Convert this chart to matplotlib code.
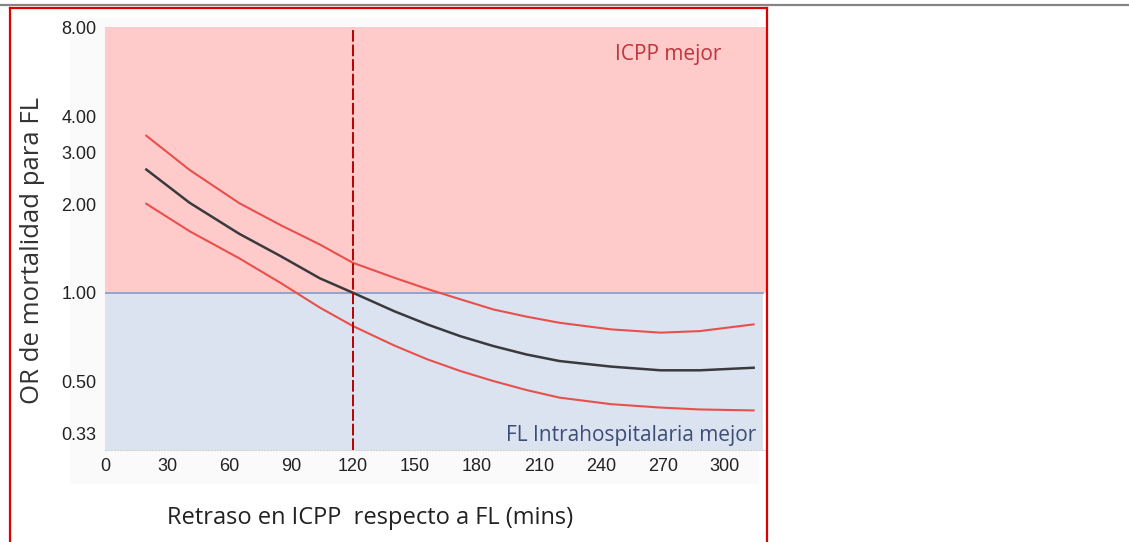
import numpy as np
import matplotlib
matplotlib.use("Agg")
import matplotlib.pyplot as plt
from matplotlib.lines import Line2D
from matplotlib.patches import Rectangle

# ── Data ──────────────────────────────────────────────────────────────────────
delay_min = [20, 41, 65, 85, 104, 120, 140, 156, 172, 188, 204, 220, 245, 269, 288, 314]
or_mid    = [2.63, 2.025, 1.588, 1.333, 1.12, 1.00, 0.865, 0.78, 0.711, 0.658,
             0.616, 0.585, 0.56, 0.544, 0.544, 0.555]
or_upper  = [3.43, 2.62, 2.02, 1.70, 1.46, 1.265, 1.125, 1.03, 0.95, 0.877,
             0.829, 0.79, 0.75, 0.731, 0.74, 0.78]
or_lower  = [2.01, 1.62, 1.31, 1.08, 0.89, 0.77, 0.661, 0.593, 0.541, 0.50,
             0.466, 0.439, 0.417, 0.406, 0.40, 0.397]

x_ticks = [0, 30, 60, 90, 120, 150, 180, 210, 240, 270, 300]
y_ticks = [0.33, 0.50, 1.00, 2.00, 3.00, 4.00, 8.00]
cutoff = 120

PINK = "#FFCACA"; BLUE_BG = "#DAE3EF"; REDLINE = "#E8504C"; DARK = "#3A3A3E"
TICK_FONT = ["Liberation Sans Narrow", "Liberation Sans", "DejaVu Sans"]
TEXT_FONT = ["Open Sans", "DejaVu Sans"]

fig = plt.figure(figsize=(11.29, 5.42), dpi=100)
W, H = 1129, 542

# frame decorations (pixel coords -> figure fraction)
fig.add_artist(Line2D([0, 1], [1 - 5 / H, 1 - 5 / H], color="#858585", lw=1.6))
fig.add_artist(Rectangle((70 / W, 1 - 484 / H), 688 / W, 466 / H,
                         facecolor="#FAFAFA", edgecolor="none", zorder=0))
for xs, ys in [([10 / W, 10 / W], [0, 1 - 8 / H]),
               ([10 / W, 767 / W], [1 - 8 / H, 1 - 8 / H]),
               ([767 / W, 767 / W], [0, 1 - 8 / H])]:
    fig.add_artist(Line2D(xs, ys, color="#E00000", lw=1.6))

ax = fig.add_axes([105 / W, 1 - 450 / H, 661 / W, 423 / H])
ax.set_yscale("log")
ax.set_xlim(0, 320)
ax.set_ylim(0.291, 8.05)

ax.axhspan(1.0, 8.05, color=PINK, lw=0, zorder=0)
ax.axhspan(0.291, 1.0, xmax=0.995, color=BLUE_BG, lw=0, zorder=0)
ax.axhline(1.0, xmax=0.995, color="#7F9CCB", lw=1.2, zorder=1)
ax.axvline(cutoff, color="#B80000", lw=1.4, ls=(0, (6, 1.5)), zorder=4)

ax.plot(delay_min, or_upper, color=REDLINE, lw=1.5, zorder=3)
ax.plot(delay_min, or_lower, color=REDLINE, lw=1.5, zorder=3)
ax.plot(delay_min, or_mid, color=DARK, lw=1.8, zorder=3)

ax.text(0.933, 0.935, "ICPP mejor", transform=ax.transAxes, ha="right", va="center",
        fontsize=15, color="#C0343C", family=TEXT_FONT)
ax.text(0.985, 0.035, "FL Intrahospitalaria mejor", transform=ax.transAxes,
        ha="right", va="center", fontsize=15, color="#3C4E78", family=TEXT_FONT)

ax.set_xticks(x_ticks)
ax.set_xticklabels([str(t) for t in x_ticks], fontsize=13, family=TICK_FONT, color="#222222")
ax.set_yticks(y_ticks)
ax.set_yticklabels([f"{t:.2f}" for t in y_ticks], fontsize=13, family=TICK_FONT, color="#222222")
ax.yaxis.set_minor_locator(matplotlib.ticker.NullLocator())
ax.tick_params(length=0, pad=6)
for s in ["top", "right", "left"]:
    ax.spines[s].set_visible(False)
ax.spines["bottom"].set_color("#D0D0D0")
ax.spines["bottom"].set_linestyle(":")

fig.text(33 / W, 1 - 250 / H, "OR de mortalidad para FL", rotation=90, ha="center",
         va="center", fontsize=18.5, color="#333333", family=TEXT_FONT)
fig.text(370 / W, 1 - 518 / H, "Retraso en ICPP  respecto a FL (mins)", ha="center",
         va="center", fontsize=17, color="#222222", family=TEXT_FONT)

fig.savefig("out.png", dpi=100)
